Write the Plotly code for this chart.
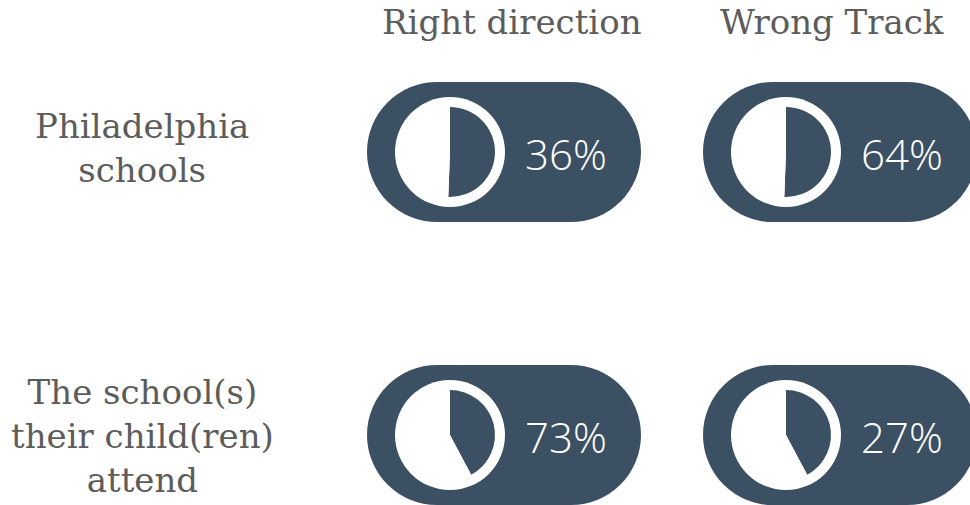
import plotly.graph_objects as go

# ---- data ----
columns = ["Right direction", "Wrong Track"]
rows = ["Philadelphia<br>schools", "The school(s)<br>their child(ren)<br>attend"]
values = [[36, 64], [73, 27]]          # percentages shown
wedge_fraction = [0.506, 0.422]        # share of icon disc filled (as drawn)

# ---- style / layout constants ----
W, H = 970, 505
PILL = "#3c5064"
GREY = "#5c5c5c"
col_left = [367, 703]
pill_w = 274
row_cy = [152, 435]
label_cy = [148, 436]
pill_r = 70
circ_dx = 83
circ_r = 55
wedge_r = 45
header_x = [512, 832]
header_y = 22
label_x = 142
SERIF = "DejaVu Serif"

fig = go.Figure()
shapes = []
annotations = []

for ci, name in enumerate(columns):
    annotations.append(dict(x=header_x[ci], y=header_y, text=name, showarrow=False,
                            xref="x", yref="y", xanchor="center", yanchor="middle",
                            font=dict(family=SERIF, size=34, color=GREY)))

for ri, lab in enumerate(rows):
    annotations.append(dict(x=label_x, y=label_cy[ri], text=lab, showarrow=False,
                            xref="x", yref="y", xanchor="center", yanchor="middle",
                            align="center",
                            font=dict(family=SERIF, size=34, color=GREY)))
    cy = row_cy[ri]
    for ci in range(len(columns)):
        x0 = col_left[ci]
        x1 = x0 + pill_w
        # pill body
        shapes.append(dict(type="rect", xref="x", yref="y", x0=x0 + pill_r, x1=x1 - pill_r,
                           y0=cy - pill_r, y1=cy + pill_r, fillcolor=PILL, line_width=0, layer="below"))
        for cx in (x0 + pill_r, x1 - pill_r):
            shapes.append(dict(type="circle", xref="x", yref="y", x0=cx - pill_r, x1=cx + pill_r,
                               y0=cy - pill_r, y1=cy + pill_r, fillcolor=PILL, line_width=0, layer="below"))
        # white disc
        ccx = x0 + circ_dx
        shapes.append(dict(type="circle", xref="x", yref="y", x0=ccx - circ_r, x1=ccx + circ_r,
                           y0=cy - circ_r, y1=cy + circ_r, fillcolor="white", line_width=0, layer="below"))
        # wedge as pie
        f = wedge_fraction[ri]
        fig.add_trace(go.Pie(values=[f, 1 - f], sort=False, direction="clockwise", rotation=0,
                             marker=dict(colors=[PILL, "white"], line=dict(width=0)),
                             textinfo="none", hoverinfo="skip", showlegend=False,
                             domain=dict(x=[(ccx - wedge_r) / W, (ccx + wedge_r) / W],
                                         y=[1 - (cy + wedge_r) / H, 1 - (cy - wedge_r) / H])))
        # percentage text
        annotations.append(dict(x=ccx + circ_r + 18, y=cy + 1, text=f"{values[ri][ci]}%", showarrow=False,
                                xref="x", yref="y", xanchor="left", yanchor="middle",
                                font=dict(family="Open Sans", size=42, color="white", weight=300)))

fig.add_trace(go.Scatter(x=[0, W], y=[0, H], mode="markers", marker=dict(opacity=0),
                         hoverinfo="skip", showlegend=False))

fig.update_layout(width=W, height=H, margin=dict(l=0, r=0, t=0, b=0),
                  paper_bgcolor="white", plot_bgcolor="white",
                  xaxis=dict(range=[0, W], visible=False, fixedrange=True),
                  yaxis=dict(range=[H, 0], visible=False, fixedrange=True),
                  shapes=shapes, annotations=annotations, showlegend=False)

fig.write_html("out.html", config={"displayModeBar": False},
               post_script="document.body.style.margin='0';document.body.style.overflow='hidden';")
